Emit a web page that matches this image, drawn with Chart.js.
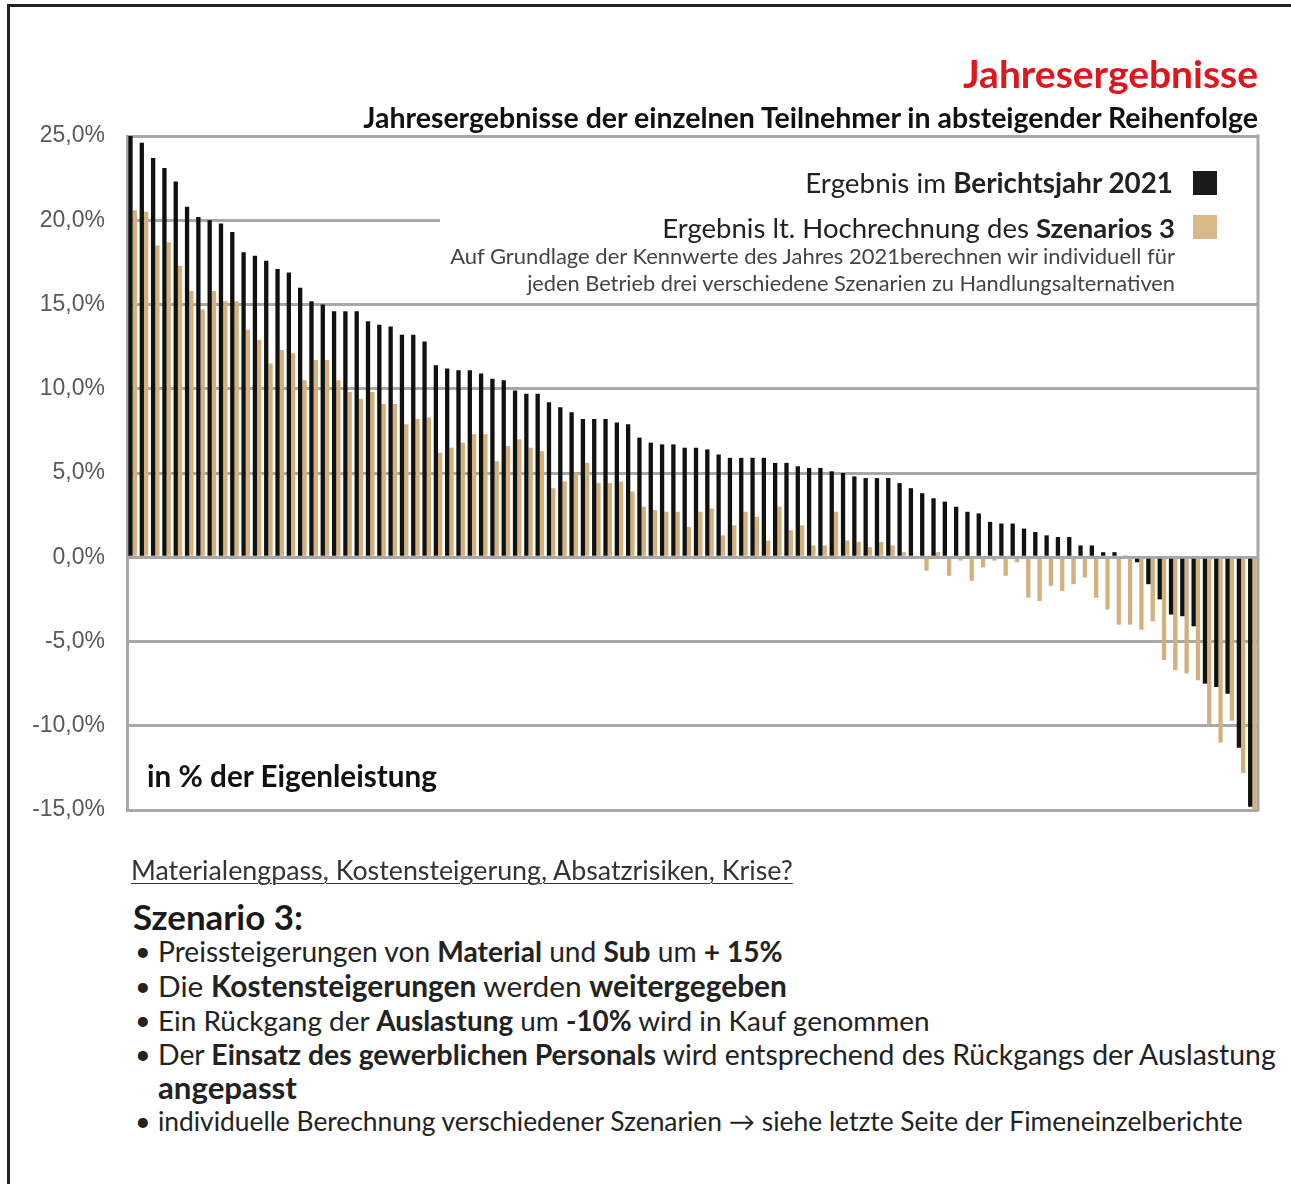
<!DOCTYPE html>
<html>
<head>
<meta charset="utf-8">
<script src="https://cdn.jsdelivr.net/npm/chart.js@4"></script>
<style>
  html,body{margin:0;padding:0;background:#fff;}
  body{width:1291px;height:1184px;position:relative;overflow:hidden;font-family:"Lato","Open Sans",sans-serif;}
  #wrap{position:absolute;left:0;top:0;width:1291px;height:880px;}
  .frameTop{position:absolute;left:7px;top:4px;width:1284px;height:3px;background:#222;}
  .frameLeft{position:absolute;left:7px;top:4px;width:3px;height:1180px;background:#222;}
  .t{position:absolute;white-space:nowrap;line-height:40px;height:40px;}
  .b{font-weight:700;}
  .red{color:#e0161d;}
</style>
</head>
<body>
<div id="wrap"><canvas id="c" width="1291" height="880"></canvas></div>
<div class="frameTop"></div>
<div class="frameLeft"></div>

<div class="t b red" data-w="295" style="right:33px;top:53px;font-size:31px;">Jahresergebnisse</div>
<div class="t b" data-w="895" style="right:33px;top:97px;font-size:22px;color:#111;">Jahresergebnisse der einzelnen Teilnehmer in absteigender Reihenfolge</div>

<div class="t" data-w="368" style="right:118px;top:163px;font-size:25px;color:#222;">Ergebnis im <b>Berichtsjahr 2021</b></div>
<div class="t" data-w="513" style="right:116px;top:208px;font-size:25px;color:#222;">Ergebnis lt. Hochrechnung des <b>Szenarios 3</b></div>
<div class="t" data-w="725" style="right:116px;top:236px;font-size:19px;color:#444;">Auf Grundlage der Kennwerte des Jahres 2021berechnen wir individuell für</div>
<div class="t" data-w="648" style="right:116px;top:263px;font-size:19px;color:#444;">jeden Betrieb drei verschiedene Szenarien zu Handlungsalternativen</div>

<div class="t b" data-w="290" style="left:147px;top:756px;font-size:23px;color:#111;">in % der Eigenleistung</div>

<div class="t" data-w="662" style="left:131px;top:850px;font-size:24px;color:#333;text-decoration:underline;text-decoration-thickness:1px;text-underline-offset:3px;">Materialengpass, Kostensteigerung, Absatzrisiken, Krise?</div>
<div class="t b" data-w="170" style="left:133px;top:897px;font-size:27px;color:#1a1a1a;">Szenario 3:</div>

<div class="t" style="left:135px;top:931px;font-size:27px;color:#222;">•</div>
<div class="t" data-w="625" style="left:158px;top:931px;font-size:25px;color:#222;">Preissteigerungen von <b>Material</b> und <b>Sub</b> um <b>+ 15%</b></div>
<div class="t" style="left:135px;top:966px;font-size:27px;color:#222;">•</div>
<div class="t" data-w="629" style="left:158px;top:966px;font-size:25px;color:#222;">Die <b>Kostensteigerungen</b> werden <b>weitergegeben</b></div>
<div class="t" style="left:135px;top:1000px;font-size:27px;color:#222;">•</div>
<div class="t" data-w="772" style="left:158px;top:1000px;font-size:25px;color:#222;">Ein Rückgang der <b>Auslastung</b> um <b>-10%</b> wird in Kauf genommen</div>
<div class="t" style="left:135px;top:1034px;font-size:27px;color:#222;">•</div>
<div class="t" data-w="1118" style="left:158px;top:1034px;font-size:25px;color:#222;">Der <b>Einsatz des gewerblichen Personals</b> wird entsprechend des Rückgangs der Auslastung</div>
<div class="t b" data-w="139" style="left:158px;top:1067px;font-size:25px;color:#222;">angepasst</div>
<div class="t" style="left:135px;top:1101px;font-size:27px;color:#222;">•</div>
<div class="t" data-w="1085" style="left:158px;top:1101px;font-size:25px;color:#222;">individuelle Berechnung verschiedener Szenarien → siehe letzte Seite der Fimeneinzelberichte</div>

<script>
// ---- data ----
const participants = Array.from({length: 100}, (_, i) => String(i + 1));

const ergebnis2021 = [
  25.0, 24.6, 23.7, 23.1, 22.3, 20.8, 20.2, 20.0, 19.8, 19.3,
  18.1, 17.9, 17.6, 17.1, 16.9, 16.0, 15.2, 15.0, 14.6, 14.6,
  14.6, 14.0, 13.8, 13.7, 13.2, 13.2, 12.8, 11.4, 11.2, 11.1,
  11.1, 10.9, 10.6, 10.5, 9.9, 9.7, 9.7, 9.2, 8.9, 8.6,
  8.2, 8.2, 8.2, 8.0, 7.9, 7.1, 6.8, 6.7, 6.7, 6.5,
  6.5, 6.4, 6.1, 5.9, 5.9, 5.9, 5.9, 5.6, 5.6, 5.4,
  5.3, 5.3, 5.1, 5.0, 4.8, 4.7, 4.7, 4.7, 4.4, 4.1,
  3.8, 3.5, 3.3, 3.0, 2.7, 2.6, 2.1, 2.0, 2.0, 1.7,
  1.5, 1.3, 1.2, 1.2, 0.7, 0.7, 0.3, 0.3, 0.1, -0.3,
  -1.6, -2.5, -3.4, -3.5, -4.1, -7.5, -7.7, -8.1, -11.3, -14.8
];

const szenario3 = [
  20.6, 20.5, 18.5, 18.7, 17.3, 15.8, 14.7, 15.8, 15.2, 15.2,
  13.5, 12.9, 11.5, 12.3, 12.1, 10.5, 11.7, 11.7, 10.5, 9.8,
  9.4, 9.8, 9.1, 9.1, 7.9, 8.2, 8.3, 6.2, 6.5, 6.8,
  7.3, 7.3, 5.7, 6.6, 7.0, 6.5, 6.3, 4.1, 4.5, 5.0,
  5.6, 4.4, 4.4, 4.5, 3.9, 3.0, 2.8, 2.7, 2.7, 1.8,
  2.7, 2.9, 1.3, 1.9, 2.7, 2.4, 1.0, 3.0, 1.6, 1.9,
  0.7, 0.7, 2.7, 1.0, 0.9, 0.6, 0.9, 0.7, 0.3, 0.1,
  -0.8, 0.3, -1.1, -0.2, -1.4, -0.6, -0.2, -1.1, -0.3, -2.4,
  -2.6, -1.7, -2.0, -1.6, -1.2, -2.4, -3.1, -4.0, -4.0, -4.3,
  -3.8, -6.1, -6.7, -6.9, -7.3, -9.9, -11.0, -9.7, -12.8, -15.0
];

const yMin = -15, yMax = 25, yStep = 5;
const seriesNames = ['Ergebnis im Berichtsjahr 2021', 'Ergebnis lt. Hochrechnung des Szenarios 3'];

// ---- fit text widths ----
document.querySelectorAll('[data-w]').forEach(el => {
  const target = parseFloat(el.dataset.w);
  const w = el.getBoundingClientRect().width;
  const fs = parseFloat(getComputedStyle(el).fontSize);
  if (w > 0) el.style.fontSize = (fs * target / w).toFixed(2) + 'px';
});

const GRID = '#a8a8a8';
const AREA = { top: 136, bottom: 810, right: 1258 };

const framePlugin = {
  id: 'framePlugin',
  beforeDatasetsDraw(chart) {
    const {ctx, chartArea, scales} = chart;
    const y15 = scales.y.getPixelForValue(15);
    ctx.save();
    ctx.fillStyle = '#ffffff';
    ctx.fillRect(440, chartArea.top + 2, chartArea.right - 440 - 1, y15 - chartArea.top - 4);
    ctx.restore();
  },
  afterDraw(chart) {
    const {ctx, chartArea} = chart;
    ctx.save();
    ctx.strokeStyle = GRID;
    ctx.lineWidth = 3;
    ctx.beginPath();
    ctx.moveTo(chartArea.right, chartArea.top - 1.5);
    ctx.lineTo(chartArea.right, chartArea.bottom + 1.5);
    ctx.stroke();
    // legend swatches
    ctx.fillStyle = '#1a1a1a';
    ctx.fillRect(1193, 171, 24, 24);
    ctx.fillStyle = '#d8b886';
    ctx.fillRect(1193, 215, 24, 24);
    ctx.restore();
  }
};

const chart = new Chart(document.getElementById('c'), {
  type: 'bar',
  data: {
    labels: participants,
    datasets: [
      { label: seriesNames[0], data: ergebnis2021, backgroundColor: '#111111', categoryPercentage: 0.76, barPercentage: 1.0 },
      { label: seriesNames[1], data: szenario3, backgroundColor: '#d4b07d', categoryPercentage: 0.76, barPercentage: 1.0 }
    ]
  },
  options: {
    responsive: false,
    animation: false,
    layout: { padding: { left: 0, right: 33, top: 136, bottom: 60 } },
    plugins: { legend: { display: false }, title: { display: false }, tooltip: { enabled: false } },
    scales: {
      x: { display: false, grid: { display: false } },
      y: {
        min: yMin, max: yMax,
        afterFit(scale) { scale.width = 127; },
        grid: { color: GRID, lineWidth: 3, drawTicks: false },
        border: { display: true, color: GRID, width: 3 },
        ticks: {
          stepSize: yStep,
          padding: 22,
          color: '#595959',
          font: { family: '"Liberation Sans", Arial, sans-serif', size: 23 },
          callback: v => v.toFixed(1).replace('.', ',') + '%'
        }
      }
    }
  },
  plugins: [framePlugin]
});

// adjust layout padding so the plot area lands where the reference has it
for (let i = 0; i < 4; i++) {
  const a = chart.chartArea;
  const p = chart.options.layout.padding;
  p.top += AREA.top - a.top;
  p.bottom -= AREA.bottom - a.bottom;
  p.right -= AREA.right - a.right;
  chart.update('none');
}
</script>
</body>
</html>
